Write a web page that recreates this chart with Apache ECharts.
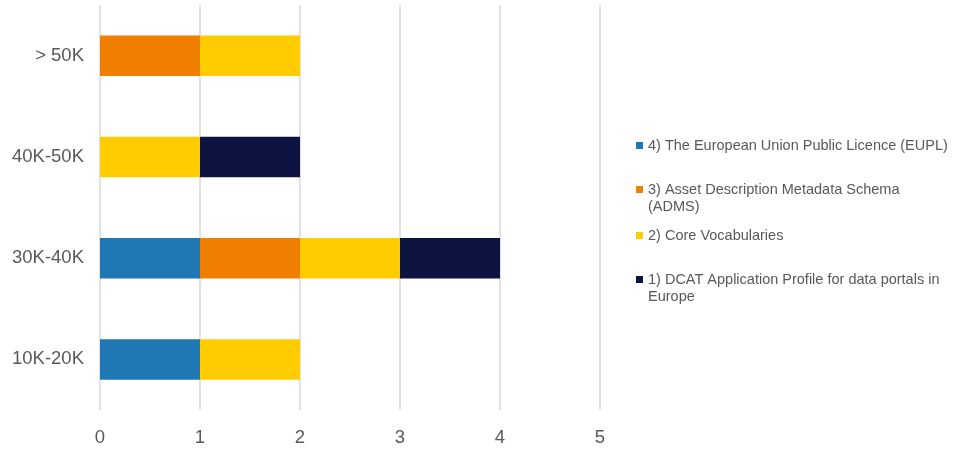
<!DOCTYPE html>
<html><head><meta charset="utf-8">
<script src="https://cdn.jsdelivr.net/npm/echarts@6/dist/echarts.min.js"></script>
<style>html,body{margin:0;padding:0;background:#fff}#c{width:957px;height:450px}</style>
</head><body><div id="c"></div>
<script>
const categories = ['10K-20K', '30K-40K', '40K-50K', '> 50K'];
const seriesNames = [
  '4) The European Union Public Licence (EUPL)',
  '3) Asset Description Metadata Schema (ADMS)',
  '2) Core Vocabularies',
  '1) DCAT Application Profile for data portals in Europe'
];
const legendLabels = [
  '4) The European Union Public Licence (EUPL)',
  ' \n3) Asset Description Metadata Schema\n(ADMS)',
  '2) Core Vocabularies',
  ' \n1) DCAT Application Profile for data portals in\nEurope'
];
const eupl = [1, 1, 0, 0];
const adms = [0, 1, 0, 1];
const core = [1, 1, 1, 1];
const dcat = [0, 1, 1, 0];
const xTicks = [0, 1, 2, 3, 4, 5];
const colors = ['#1F77B4', '#F07F00', '#FFCC00', '#0E1442'];

const values = [eupl, adms, core, dcat];
const legendTops = [137, 164, 227, 254];
const chart = echarts.init(document.getElementById('c'));
const font = "'Liberation Sans', Arial, sans-serif";
chart.setOption({
  animation: false,
  textStyle: { fontFamily: font },
  grid: { left: 100, right: 357, top: 5, bottom: 40, containLabel: false },
  xAxis: {
    type: 'value', min: xTicks[0], max: xTicks[xTicks.length - 1], interval: 1,
    axisLine: { show: false }, axisTick: { show: false },
    splitLine: { lineStyle: { color: '#D9D9D9', width: 1.5 } },
    axisLabel: { color: '#595959', fontSize: 18.5, margin: 18, fontFamily: font }
  },
  yAxis: {
    type: 'category', data: categories,
    axisLine: { show: false }, axisTick: { show: false },
    axisLabel: { color: '#595959', fontSize: 18.5, margin: 16, fontFamily: font }
  },
  legend: seriesNames.map((n, i) => ({
    data: [n], left: 636, top: legendTops[i], orient: 'vertical', padding: 0,
    icon: 'rect', itemWidth: 7, itemHeight: 7, itemGap: 0,
    selectedMode: false,
    formatter: () => legendLabels[i],
    textStyle: { color: '#595959', fontSize: 14.5, lineHeight: 17, fontFamily: font }
  })),
  series: seriesNames.map((n, i) => ({
    name: n, type: 'bar', stack: 'total', barWidth: '40%',
    itemStyle: { color: colors[i] },
    data: values[i]
  }))
});
</script></body></html>
